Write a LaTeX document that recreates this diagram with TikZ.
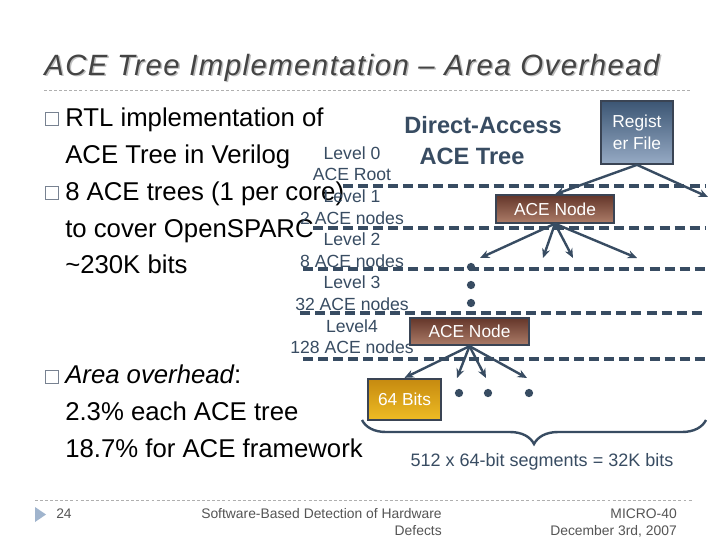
\documentclass[tikz,border=0pt]{standalone}
\usepackage{fontspec}
\setmainfont{Liberation Sans}
\newfontfamily\titlefont[LetterSpace=5]{Liberation Sans}
\usetikzlibrary{positioning,arrows.meta,decorations.pathreplacing}
\definecolor{slate}{RGB}{56,76,98}
\definecolor{boxline}{RGB}{58,68,84}
\definecolor{titlegray}{RGB}{68,68,68}
\definecolor{shadowgray}{RGB}{190,190,190}
\definecolor{bulletgray}{RGB}{120,130,145}
\definecolor{rulegray}{RGB}{175,175,175}
\definecolor{footgray}{RGB}{85,85,85}
\definecolor{footblue}{RGB}{160,180,205}
\definecolor{brownTop}{RGB}{100,54,42}
\definecolor{brownBot}{RGB}{172,124,104}
\definecolor{goldTop}{RGB}{198,138,16}
\definecolor{goldBot}{RGB}{238,188,36}
\definecolor{regTop}{RGB}{60,86,116}
\definecolor{regBot}{RGB}{150,170,196}

\begin{document}
\begin{tikzpicture}[x=0.75pt, y=-0.75pt,
    body/.style={anchor=base west, inner sep=0pt, font=\fontsize{19.3}{23}\selectfont},
    bullet/.style={draw=bulletgray, line width=1pt, minimum size=9.5pt, inner sep=0pt, anchor=south west},
    lvl/.style={anchor=base, inner sep=0pt, text=slate, font=\fontsize{13.2}{15}\selectfont},
    sep/.style={slate, line width=2.3pt, dash pattern=on 7.5pt off 3.8pt},
    acenode/.style={draw=boxline, line width=1.5pt, top color=brownTop, bottom color=brownBot,
        text=white, minimum width=88pt, minimum height=20.5pt, inner sep=0pt,
        font=\fontsize{13}{15}\selectfont},
    arr/.style={-{Stealth[length=7pt,width=6pt]}, slate, line width=1.8pt},
    dot/.style={circle, fill=slate, inner sep=0pt, minimum size=6.2pt},
    foot/.style={inner sep=0pt, text=footgray, font=\fontsize{10.4}{12}\selectfont}]

    % Slide frame
    \fill[white] (0,0) rectangle (720,540);
    \useasboundingbox (0,0) rectangle (720,540);

    \node[anchor=base west, inner sep=0pt, text=shadowgray, font=\titlefont\itshape\fontsize{22}{26}\selectfont]
        (titleshadow) at (45.5,76.5) {ACE Tree Implementation – Area Overhead};
    \node[anchor=base west, inner sep=0pt, text=titlegray, font=\titlefont\itshape\fontsize{22}{26}\selectfont]
        (title) at (44,75) {ACE Tree Implementation – Area Overhead};
    \draw[rulegray, line width=0.6pt, dash pattern=on 2.2pt off 1.6pt] (44,90) -- (690,90);
    \draw[rulegray, line width=0.6pt, dash pattern=on 2.2pt off 1.6pt] (35,500) -- (692,500);

    % Level separators
    \foreach \xs/\yy in {343/186, 313/228, 303/269, 300/313, 303/359}
        \draw[sep] (\xs,\yy) -- (706,\yy);

    % Bullet text
    \node[bullet] (b1) at (45,126) {};
    \node[body] (rtl1) at (65,126) {RTL implementation of};
    \node[body] (rtl2) at (65,163) {ACE Tree in Verilog};
    \node[bullet] (b2) at (45,200) {};
    \node[body] (acetrees1) at (65,200) {8 ACE trees (1 per core)};
    \node[body] (acetrees2) at (65,237) {to cover OpenSPARC};
    \node[body] (acetrees3) at (65,273) {\textasciitilde230K bits};
    \node[bullet] (b3) at (45,384) {};
    \node[body] (area1) at (65,383) {{\itshape Area overhead}:};
    \node[body] (area2) at (65,420) {2.3\% each ACE tree};
    \node[body] (area3) at (65,457) {18.7\% for ACE framework};

    % Tree levels
    \foreach \t [count=\i] in {Level 0,ACE Root,Level 1,2 ACE nodes,Level 2,8 ACE nodes,Level 3,32 ACE nodes,Level4,128 ACE nodes}
        \node[lvl] (lvl\i) at (352,{137.6+21.6*\i}) {\t};

    \node[anchor=base, inner sep=0pt, text=slate, font=\bfseries\fontsize{17.7}{20}\selectfont]
        (datitle1) at (483,133) {Direct-Access};
    \node[anchor=base, inner sep=0pt, text=slate, font=\bfseries\fontsize{17.7}{20}\selectfont]
        (datitle2) at (472,164) {ACE Tree};

    \node[draw=boxline, line width=1.5pt, top color=regTop, bottom color=regBot, text=white,
        minimum width=54pt, minimum height=47pt, inner sep=0pt, align=center,
        font=\fontsize{13}{16.5}\selectfont] (regfile) at (637,132.5) {Regist\\er File};

    \node[acenode] (node1) at (555,209) {ACE Node};
    \node[acenode, minimum width=89pt] (node2) at (469.5,331.5) {ACE Node};
    \node[draw=boxline, line width=1.5pt, top color=goldTop, bottom color=goldBot, text=white,
        minimum width=55pt, minimum height=31pt, inner sep=0pt,
        font=\fontsize{13}{15}\selectfont] (seg64) at (404.5,399.5) {64 Bits};

    \coordinate (rfend) at (708,197);
    \coordinate (t1) at (480,258);
    \coordinate (t2) at (543,258);
    \coordinate (t3) at (573,258);
    \coordinate (t4) at (637,258);
    \coordinate (u2) at (457,378);
    \coordinate (u3) at (486,378);
    \coordinate (u4) at (527,378);

    \node[dot] (d1) at (471,267) {};
    \node[dot] (d2) at (471,285) {};
    \node[dot] (d3) at (471,303) {};
    \node[dot] (e1) at (459,393) {};
    \node[dot] (e2) at (488,393) {};
    \node[dot] (e3) at (529,393) {};

    % Pointers
    \draw[arr] (regfile.south) -- (node1.north);
    \draw[arr] (regfile.south) -- (rfend);
    \draw[arr] (node1.south) -- (t1);
    \draw[arr] (node1.south) -- (t2);
    \draw[arr] (node1.south) -- (t3);
    \draw[arr] (node1.south) -- (t4);
    \draw[arr] (node2.south) -- (seg64.north);
    \draw[arr] (node2.south) -- (u2);
    \draw[arr] (node2.south) -- (u3);
    \draw[arr] (node2.south) -- (u4);

    \coordinate (braceL) at (362,420);
    \coordinate (braceR) at (706,420);
    \draw[slate, line width=1.8pt, decorate, decoration={brace, amplitude=18pt, mirror}] (braceL) -- (braceR);
    \node[anchor=base, inner sep=0pt, text=slate, font=\fontsize{13.5}{16}\selectfont]
        (segs) at (542,466) {512 x 64-bit segments = 32K bits};

    % Footer
    \fill[footblue] (35,507) -- (46,514.5) -- (35,522) -- cycle;
    \node[foot, anchor=base west] (pagenum) at (56,518) {24};
    \node[foot, anchor=base east] (foot1) at (442,518) {Software-Based Detection of Hardware};
    \node[foot, anchor=base east] (foot2) at (442,535) {Defects};
    \node[foot, anchor=base east] (foot3) at (677,518) {MICRO-40};
    \node[foot, anchor=base east] (foot4) at (677,535) {December 3rd, 2007};

\end{tikzpicture}
\end{document}
